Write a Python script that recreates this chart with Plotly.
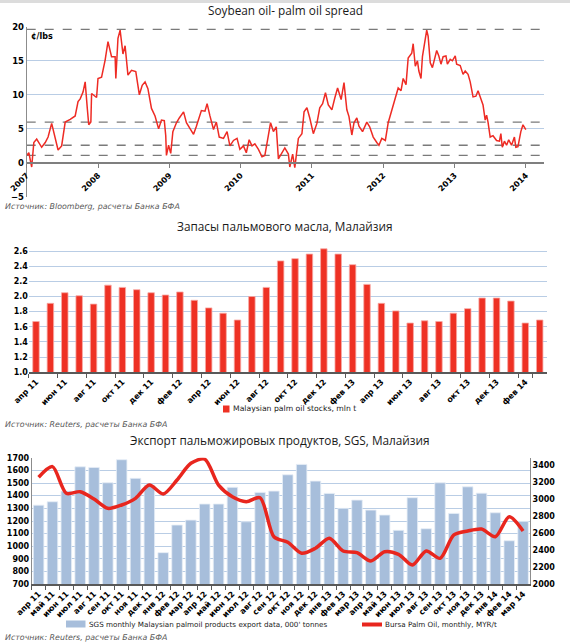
import plotly.graph_objects as go

W, H = 570, 644

# ---------------- Panel 1: Soybean oil - palm oil spread ----------------
spread_years = [2007.00, 2007.03, 2007.07, 2007.10, 2007.14, 2007.21, 2007.26, 2007.30, 2007.35, 2007.40,
                2007.44, 2007.49, 2007.54, 2007.61, 2007.68, 2007.72, 2007.75, 2007.79, 2007.82, 2007.85,
                2007.87, 2007.90, 2007.91, 2007.98, 2008.00, 2008.05, 2008.10, 2008.14, 2008.19, 2008.24,
                2008.25, 2008.28, 2008.31, 2008.35, 2008.38, 2008.42, 2008.47, 2008.53, 2008.58, 2008.62,
                2008.66, 2008.70, 2008.75, 2008.80, 2008.85, 2008.89, 2008.93, 2008.95, 2008.96, 2008.99,
                2009.02, 2009.05, 2009.10, 2009.14, 2009.20, 2009.24, 2009.29, 2009.34, 2009.38, 2009.45,
                2009.50, 2009.53, 2009.57, 2009.62, 2009.66, 2009.70, 2009.76, 2009.81, 2009.85, 2009.90,
                2009.95, 2009.99, 2010.04, 2010.08, 2010.12, 2010.16, 2010.20, 2010.25, 2010.30, 2010.34,
                2010.39, 2010.42, 2010.46, 2010.50, 2010.53, 2010.58, 2010.62, 2010.67, 2010.69, 2010.73,
                2010.76, 2010.81, 2010.86, 2010.89, 2010.93, 2010.97, 2011.02, 2011.07, 2011.11, 2011.15,
                2011.19, 2011.23, 2011.28, 2011.32, 2011.36, 2011.41, 2011.45, 2011.49, 2011.52, 2011.56,
                2011.59, 2011.63, 2011.66, 2011.71, 2011.77, 2011.81, 2011.86, 2011.91, 2011.94, 2011.98,
                2012.03, 2012.07, 2012.12, 2012.17, 2012.21, 2012.25, 2012.28, 2012.32, 2012.35, 2012.40,
                2012.42, 2012.45, 2012.48, 2012.50, 2012.53, 2012.55, 2012.58, 2012.61, 2012.63, 2012.66,
                2012.69, 2012.73, 2012.75, 2012.78, 2012.81, 2012.84, 2012.88, 2012.90, 2012.94, 2012.97,
                2013.01, 2013.03, 2013.08, 2013.12, 2013.15, 2013.19, 2013.22, 2013.26, 2013.30, 2013.33,
                2013.37, 2013.40, 2013.43, 2013.45, 2013.47, 2013.50, 2013.54, 2013.59, 2013.63, 2013.65,
                2013.67, 2013.70, 2013.73, 2013.76, 2013.80, 2013.84, 2013.86, 2013.89, 2013.93, 2013.96,
                2014.00]
spread_vals = [1.1, 1.5, -0.6, 3.0, 3.5, 2.3, 3.0, 3.8, 5.8, 3.6,
               1.9, 2.5, 6.0, 6.4, 6.9, 9.0, 9.4, 10.4, 11.9, 8.0,
               5.6, 6.0, 10.2, 9.6, 12.4, 12.6, 15.1, 17.8, 15.6, 15.6,
               12.4, 18.3, 19.5, 16.0, 17.2, 12.9, 13.6, 13.4, 10.0, 11.4,
               11.9, 10.9, 8.0, 6.9, 5.0, 6.3, 6.2, 4.0, 1.1, 2.6,
               1.4, 4.6, 5.9, 6.6, 7.5, 5.9, 5.1, 4.2, 5.4, 7.7,
               7.6, 8.7, 6.9, 4.9, 6.0, 3.8, 3.6, 4.6, 2.5, 3.3,
               3.6, 2.0, 2.5, 1.5, 3.4, 2.5, 2.8, 2.0, 0.9, 1.1,
               4.1, 5.9, 4.6, 5.3, 0.6, 1.5, 2.2, 1.3, -0.6, 1.3,
               -0.7, 3.6, 4.3, 7.5, 8.1, 6.6, 4.3, 5.8, 8.1, 8.7,
               10.3, 8.5, 7.8, 9.5, 11.0, 9.3, 11.8, 7.8, 6.8, 4.1,
               5.9, 6.6, 5.4, 4.6, 6.0, 5.3, 3.8, 3.0, 2.6, 3.6,
               3.3, 5.9, 7.8, 9.4, 11.0, 10.6, 12.4, 11.5, 15.4, 16.1,
               17.5, 14.2, 15.0, 13.5, 12.4, 15.6, 17.8, 19.5, 18.6, 14.7,
               14.0, 16.0, 16.5, 15.7, 14.5, 15.6, 15.7, 14.5, 15.2, 15.0,
               15.7, 14.5, 14.3, 13.0, 13.5, 13.0, 11.9, 9.7, 9.8, 10.6,
               9.4, 8.5, 6.3, 7.0, 6.0, 3.8, 4.0, 3.3, 3.2, 4.3,
               2.3, 3.2, 2.6, 3.4, 2.6, 3.8, 2.3, 2.4, 4.6, 5.6,
               4.9]
spread_levels = [19.6, 6.0, 2.6, 1.1]
year_ticks = [2007, 2008, 2009, 2010, 2011, 2012, 2013, 2014]
year_labels = ["2007", "2008", "2009", "2010", "2011", "2012", "2013", "2014"]

# ---------------- Panel 2 & 3 categories ----------------
months = ["апр 11", "май 11", "июн 11", "июл 11", "авг 11", "сен 11", "окт 11", "ноя 11", "дек 11",
          "янв 12", "фев 12", "мар 12", "апр 12", "май 12", "июн 12", "июл 12", "авг 12", "сен 12",
          "окт 12", "ноя 12", "дек 12", "янв 13", "фев 13", "мар 13", "апр 13", "май 13", "июн 13",
          "июл 13", "авг 13", "сен 13", "окт 13", "ноя 13", "дек 13", "янв 14", "фев 14", "мар 14"]

stocks = [1.67, 1.91, 2.05, 2.01, 1.90, 2.15, 2.12, 2.09, 2.05, 2.02, 2.06, 1.95,
          1.85, 1.78, 1.69, 2.00, 2.12, 2.47, 2.50, 2.56, 2.63, 2.56, 2.42, 2.16,
          1.91, 1.81, 1.65, 1.68, 1.67, 1.78, 1.84, 1.98, 1.98, 1.94, 1.65, 1.69]

exports = [1325, 1352, 1436, 1628, 1623, 1502, 1684, 1537, 1484, 950, 1168, 1207,
           1334, 1334, 1466, 1194, 1426, 1436, 1565, 1647, 1515, 1418, 1300, 1365,
           1286, 1247, 1126, 1384, 1139, 1502, 1260, 1470, 1420, 1265, 1044, 1197]

bursa = [3256, 3381, 3068, 3087, 3001, 2892, 2931, 3009, 3165, 3060, 3224, 3420,
         3470, 3165, 3028, 2970, 3016, 2559, 2493, 2364, 2423, 2540, 2391, 2371,
         2273, 2383, 2352, 2226, 2391, 2305, 2579, 2626, 2649, 2559, 2793, 2626]

stocks_name = "Malaysian palm oil stocks, mln t"
exports_name = "SGS monthly Malaysian palmoil products export data, 000' tonnes"
bursa_name = "Bursa Palm Oil, monthly, MYR/t"

RED = "#ee3124"
BLUE = "#a7bedb"
LINE_RED = "#e8261e"


def px_x(p):
    return p / W


def px_y(p):
    return 1 - p / H


TICKFONT = dict(family="DejaVu Sans", size=8, color="#000000", weight="bold")
GRID = "#b9cde5"

fig = go.Figure()

fig.add_trace(go.Scatter(x=spread_years, y=spread_vals, mode="lines",
                         line=dict(color="#ee2b24", width=1.5),
                         xaxis="x", yaxis="y", showlegend=False))

fig.add_trace(go.Bar(x=months, y=stocks, width=0.45,
                     marker=dict(color=RED, line=dict(color="#f7a9a5", width=0.8)),
                     name=stocks_name, xaxis="x2", yaxis="y2", showlegend=False))

fig.add_trace(go.Bar(x=months, y=exports, width=0.76,
                     marker=dict(color=BLUE, line=dict(color="#e6edf6", width=0.8)),
                     name=exports_name, xaxis="x3", yaxis="y3", showlegend=False))

fig.add_trace(go.Scatter(x=months, y=bursa, mode="lines",
                         line=dict(color=LINE_RED, width=3.5, shape="spline", smoothing=0.8),
                         name=bursa_name, xaxis="x3", yaxis="y4", showlegend=False))

shapes = []
for v in spread_levels:
    shapes.append(dict(type="line", xref="x domain", x0=0, x1=1, yref="y", y0=v, y1=v,
                       line=dict(color="#7a7a7a", width=1.3, dash="dash"), layer="below"))
# thin grey band at top of page
shapes.append(dict(type="rect", xref="paper", yref="paper", x0=0, x1=1, y0=px_y(3), y1=1,
                   fillcolor="#dcdcdc", line=dict(width=0), layer="below"))
# legend keys (drawn manually)
shapes.append(dict(type="rect", xref="paper", yref="paper", x0=px_x(223), x1=px_x(229.5),
                   y0=px_y(412.5), y1=px_y(405.5), fillcolor=RED, line=dict(width=0)))
shapes.append(dict(type="rect", xref="paper", yref="paper", x0=px_x(66), x1=px_x(85.5),
                   y0=px_y(627.5), y1=px_y(620.5), fillcolor=BLUE, line=dict(width=0)))
shapes.append(dict(type="line", xref="paper", yref="paper", x0=px_x(362), x1=px_x(382),
                   y0=px_y(624.5), y1=px_y(624.5), line=dict(color=LINE_RED, width=4)))

TITLEFONT = dict(family="Open Sans", size=11.8, color="#1a1a1a")
SRCFONT = dict(family="DejaVu Sans", size=7.9, color="#595959")
LEGFONT = dict(family="DejaVu Sans", size=7.2, color="#1a1a1a")

annotations = [
    dict(text="Soybean oil- palm oil spread", x=px_x(285), y=px_y(10), xref="paper", yref="paper",
         showarrow=False, font=TITLEFONT, xanchor="center", yanchor="middle"),
    dict(text="¢/lbs", x=px_x(29), y=px_y(37), xref="paper", yref="paper",
         showarrow=False, font=dict(family="DejaVu Sans", size=8, color="#000", weight="bold"),
         xanchor="left", yanchor="middle"),
    dict(text="<i>Источник: Bloomberg, расчеты Банка БФА</i>", x=px_x(3), y=px_y(207),
         xref="paper", yref="paper", showarrow=False, font=SRCFONT, xanchor="left", yanchor="middle"),
    dict(text="Запасы пальмового масла, Малайзия", x=px_x(285), y=px_y(226), xref="paper", yref="paper",
         showarrow=False, font=TITLEFONT, xanchor="center", yanchor="middle"),
    dict(text=stocks_name, x=px_x(231), y=px_y(409), xref="paper", yref="paper",
         showarrow=False, font=dict(family="DejaVu Sans", size=7.7, color="#1a1a1a"),
         xanchor="left", yanchor="middle"),
    dict(text="<i>Источник: Reuters, расчеты Банка БФА</i>", x=px_x(3), y=px_y(424),
         xref="paper", yref="paper", showarrow=False, font=SRCFONT, xanchor="left", yanchor="middle"),
    dict(text="Экспорт пальможировых продуктов, SGS, Малайзия", x=px_x(280), y=px_y(440),
         xref="paper", yref="paper", showarrow=False, font=TITLEFONT, xanchor="center", yanchor="middle"),
    dict(text=exports_name, x=px_x(87), y=px_y(624), xref="paper", yref="paper",
         showarrow=False, font=LEGFONT, xanchor="left", yanchor="middle"),
    dict(text=bursa_name, x=px_x(383), y=px_y(624), xref="paper", yref="paper",
         showarrow=False, font=LEGFONT, xanchor="left", yanchor="middle"),
    dict(text="<i>Источник: Reuters, расчеты Банка БФА</i>", x=px_x(3), y=px_y(637),
         xref="paper", yref="paper", showarrow=False, font=SRCFONT, xanchor="left", yanchor="middle"),
]

fig.update_layout(
    width=W, height=H,
    margin=dict(l=0, r=0, t=0, b=0, pad=0, autoexpand=False),
    paper_bgcolor="white", plot_bgcolor="white",
    showlegend=False,
    shapes=shapes, annotations=annotations,
    # panel 1
    xaxis=dict(domain=[px_x(26.7), px_x(544)], range=[2007, 2014.255], anchor="free",
               position=px_y(163), tickmode="array", tickvals=year_ticks, ticktext=year_labels,
               tickangle=-45, ticks="outside", ticklen=4, tickcolor="#7f7f7f",
               showline=True, linecolor="#7f7f7f", linewidth=1.5, showgrid=False, zeroline=False,
               tickfont=TICKFONT, automargin=False),
    yaxis=dict(domain=[px_y(197), px_y(26.7)], range=[-5, 20], tickvals=[-5, 0, 5, 10, 15, 20],
               showgrid=True, gridcolor=GRID, gridwidth=1, zeroline=False,
               showline=True, linecolor="#8c8c8c", anchor="x", ticks="", automargin=False,
               tickfont=dict(family="DejaVu Sans", size=8.5, color="#000", weight="bold")),
    # panel 2
    xaxis2=dict(domain=[px_x(28.8), px_x(546.9)], anchor="y2", type="category",
                range=[-0.5, 35.5], tickmode="array", tickvals=months[::2],
                tickangle=-45, ticks="outside", ticklen=4, tickcolor="#595959", tickson="boundaries",
                showline=True, linecolor="#595959", linewidth=1.5, showgrid=False, tickfont=TICKFONT,
                automargin=False),
    yaxis2=dict(domain=[px_y(372.3), px_y(246.5)], range=[1.0, 2.66], tick0=1.0, dtick=0.2,
                tickformat=".1f", showgrid=True, gridcolor=GRID, zeroline=False, showline=False,
                anchor="x2", tickfont=TICKFONT, automargin=False),
    # panel 3
    xaxis3=dict(domain=[px_x(31.7), px_x(530)], anchor="y3", type="category",
                range=[-0.5, 35.5], tickangle=-45, ticks="outside", ticklen=4, tickcolor="#595959",
                tickson="boundaries", showline=True, linecolor="#595959", linewidth=1.5,
                showgrid=False, tickfont=TICKFONT, automargin=False),
    yaxis3=dict(domain=[px_y(584.3), px_y(457.7)], range=[700, 1700], dtick=100,
                showgrid=True, gridcolor=GRID, zeroline=False, showline=True, linecolor="#8c8c8c",
                anchor="x3", tickfont=TICKFONT, automargin=False),
    yaxis4=dict(overlaying="y3", side="right", anchor="x3", range=[2000, 3486],
                tickvals=[2000, 2200, 2400, 2600, 2800, 3000, 3200, 3400],
                showgrid=False, zeroline=False, showline=True, linecolor="#8c8c8c",
                tickfont=TICKFONT, automargin=False),
)

fig.write_html("out.html", config={"displayModeBar": False},
               post_script="document.body.style.margin='0px';")
